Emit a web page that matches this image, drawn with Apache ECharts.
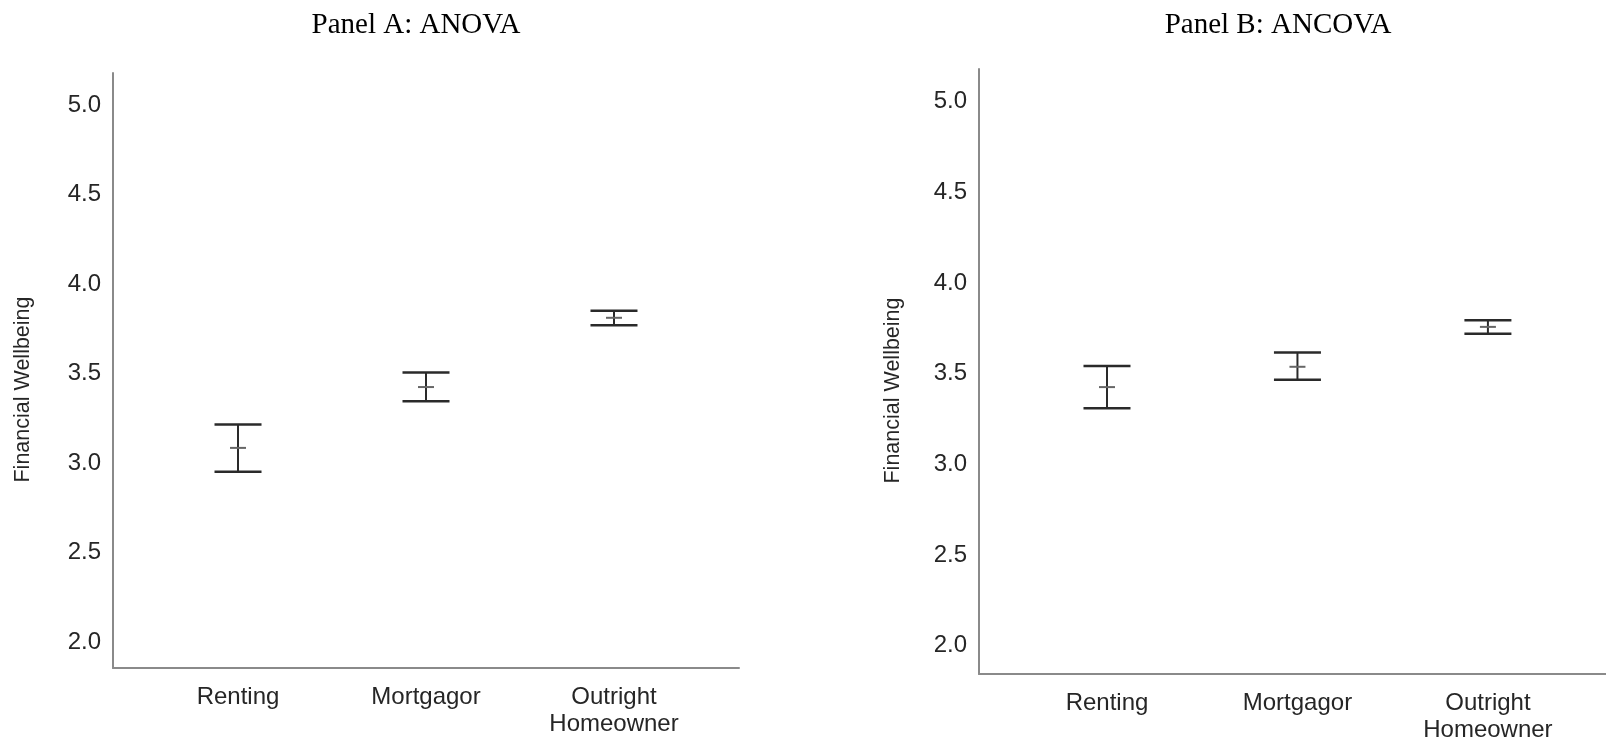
<!DOCTYPE html>
<html>
<head>
<meta charset="utf-8">
<title>Financial Wellbeing</title>
<script src="https://cdn.jsdelivr.net/npm/echarts@6/dist/echarts.min.js"></script>
<style>
  html, body { margin: 0; padding: 0; background: #fff; }
  #main { width: 1606px; height: 744px; }
</style>
</head>
<body>
<div id="main"></div>
<script>
// categories and tick labels
var categories = ["Renting", "Mortgagor", "Outright\nHomeowner"];
var yTicks = [2.0, 2.5, 3.0, 3.5, 4.0, 4.5, 5.0];

// Panel A: ANOVA (mean with confidence interval)
var anovaMean = [3.085, 3.425, 3.812];
var anovaLower = [2.951, 3.346, 3.771];
var anovaUpper = [3.216, 3.507, 3.851];

// Panel B: ANCOVA
var ancovaMean = [3.426, 3.538, 3.758];
var ancovaLower = [3.310, 3.466, 3.720];
var ancovaUpper = [3.543, 3.617, 3.794];

var textColor = "#262626";
var axisColor = "#8a8a8a";
var barColor = "#2a2a2a";

function buildData(lower, upper, mean) {
  return categories.map(function (c, i) {
    return [i + 1, lower[i], upper[i], mean[i]];
  });
}

// error bar: vertical line, two caps, small tick at the mean
function renderErrorBar(params, api) {
  var x = api.value(0);
  var lo = api.coord([x, api.value(1)]);
  var hi = api.coord([x, api.value(2)]);
  var mid = api.coord([x, api.value(3)]);
  var capHalf = 23.5;
  var meanHalf = 8;
  return {
    type: "group",
    children: [
      { type: "line", shape: { x1: hi[0], y1: hi[1], x2: lo[0], y2: lo[1] },
        style: { stroke: barColor, lineWidth: 2 } },
      { type: "line", shape: { x1: hi[0] - capHalf, y1: hi[1], x2: hi[0] + capHalf, y2: hi[1] },
        style: { stroke: barColor, lineWidth: 2.5 } },
      { type: "line", shape: { x1: lo[0] - capHalf, y1: lo[1], x2: lo[0] + capHalf, y2: lo[1] },
        style: { stroke: barColor, lineWidth: 2.5 } },
      { type: "line", shape: { x1: mid[0] - meanHalf, y1: mid[1], x2: mid[0] + meanHalf, y2: mid[1] },
        style: { stroke: "#666", lineWidth: 2 } }
    ]
  };
}

function xAxisFor(gridIndex, min, max) {
  return {
    type: "value",
    gridIndex: gridIndex,
    min: min,
    max: max,
    axisLine: { show: true, onZero: false, lineStyle: { color: axisColor, width: 2 } },
    axisTick: { show: false },
    splitLine: { show: false },
    axisLabel: {
      customValues: [1, 2, 3],
      formatter: function (v) { return categories[Math.round(v) - 1]; },
      color: textColor,
      fontFamily: "Liberation Sans",
      fontSize: 24,
      lineHeight: 27,
      margin: 16
    }
  };
}

function yAxisFor(gridIndex, min, max, nameGap) {
  return {
    type: "value",
    gridIndex: gridIndex,
    min: min,
    max: max,
    name: "Financial Wellbeing",
    nameLocation: "middle",
    nameGap: nameGap,
    nameTextStyle: {
      color: textColor,
      fontFamily: "Liberation Sans",
      fontSize: 21.5,
      padding: [0, 38, 0, 0]
    },
    axisLine: { show: true, lineStyle: { color: axisColor, width: 2 } },
    axisTick: { show: false },
    splitLine: { show: false },
    axisLabel: {
      customValues: yTicks,
      formatter: function (v) { return v.toFixed(1); },
      color: textColor,
      fontFamily: "Liberation Sans",
      fontSize: 24,
      margin: 12
    }
  };
}

var chart = echarts.init(document.getElementById("main"));
var option = {
  backgroundColor: "#fff",
  animation: false,
  title: [
    { text: "Panel A: ANOVA", left: 416, top: 11, textAlign: "center", padding: 0,
      textStyle: { fontFamily: "Liberation Serif", fontSize: 29, fontWeight: "normal", color: "#000" } },
    { text: "Panel B: ANCOVA", left: 1278, top: 11, textAlign: "center", padding: 0,
      textStyle: { fontFamily: "Liberation Serif", fontSize: 29, fontWeight: "normal", color: "#000" } }
  ],
  grid: [
    { left: 113, top: 73, width: 626, height: 595 },
    { left: 979, top: 69, width: 627, height: 606 }
  ],
  xAxis: [xAxisFor(0, 0.335, 3.665), xAxisFor(1, 0.328, 3.62)],
  yAxis: [yAxisFor(0, 1.855, 5.18, 79), yAxisFor(1, 1.844, 5.18, 75)],
  series: [
    { name: "ANOVA", type: "custom", xAxisIndex: 0, yAxisIndex: 0,
      renderItem: renderErrorBar, data: buildData(anovaLower, anovaUpper, anovaMean) },
    { name: "ANCOVA", type: "custom", xAxisIndex: 1, yAxisIndex: 1,
      renderItem: renderErrorBar, data: buildData(ancovaLower, ancovaUpper, ancovaMean) }
  ]
};
chart.setOption(option);
</script>
</body>
</html>
